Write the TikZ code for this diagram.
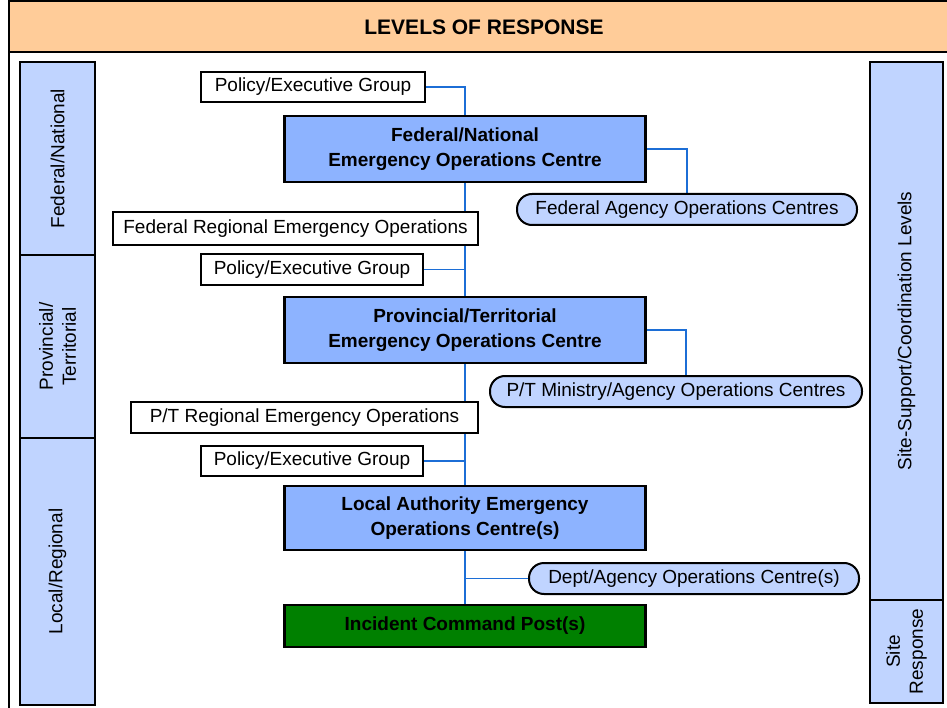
\documentclass[tikz,border=0pt]{standalone}
\usepackage{fontspec}
\setmainfont{Liberation Sans}
\usetikzlibrary{positioning,backgrounds}
\definecolor{titlepeach}{RGB}{255,204,153}
\definecolor{levelblue}{RGB}{192,212,255}
\definecolor{eocblue}{RGB}{141,179,255}
\definecolor{linkblue}{RGB}{28,110,214}
\definecolor{icpgreen}{RGB}{0,128,0}

\begin{document}
\begin{tikzpicture}[x=1pt, y=-1pt, thick,
    label text/.style={font=\fontsize{19}{23}\selectfont},
    level node/.style={label text, draw, line width=2.5pt, fill=levelblue, rotate=90, align=center, inner sep=0pt},
    group node/.style={label text, draw, line width=2.5pt, fill=white, inner sep=0pt},
    eoc node/.style={label text, font=\fontsize{19}{25}\selectfont\bfseries, draw, line width=2.5pt, fill=eocblue, align=center, inner sep=0pt, minimum width=361pt},
    agency node/.style={label text, draw, line width=2pt, fill=levelblue, rounded corners=15pt, inner sep=0pt, minimum height=31pt},
    link/.style={draw=linkblue, line width=1.8pt}]
    \useasboundingbox (0,0) rectangle (947,708);
    \clip (0,0) rectangle (947,708);

    % Frame and title
    \draw[line width=1.5pt] (9,1) rectangle (960,720);
    \draw[line width=1.5pt, fill=titlepeach] (9,1) rectangle (960,52);
    \node[font=\fontsize{21}{25}\selectfont\bfseries] (title) at (484,27) {LEVELS OF RESPONSE};

    % Levels (side columns)
    \node[level node, minimum width=193pt, minimum height=75pt] (fedlvl) at (57.5,158.5) {Federal/National};
    \node[level node, minimum width=183pt, minimum height=75pt] (provlvl) at (57.5,346.5) {Provincial/\\Territorial};
    \node[level node, minimum width=267pt, minimum height=75pt] (loclvl) at (57.5,571.5) {Local/Regional};
    \node[level node, minimum width=538pt, minimum height=73pt] (supportlvl) at (906.5,331) {Site-Support/Coordination Levels};
    \node[level node, minimum width=103pt, minimum height=73pt] (sitelvl) at (906.5,651.5) {Site\\Response};

    % Federal
    \node[group node, minimum width=224pt, minimum height=30pt] (peg1) at (313,87) {Policy/Executive Group};
    \node[eoc node, minimum height=66pt] (feoc) at (465,149) {Federal/National\\Emergency Operations Centre};
    \node[agency node, minimum width=340pt] (fao) at (687,209.5) {Federal Agency Operations Centres};
    \node[group node, minimum width=365pt, minimum height=33pt] (fre) at (295.5,228.5) {Federal Regional Emergency Operations};

    % Provincial/Territorial
    \node[group node, minimum width=222pt, minimum height=31pt] (peg2) at (312,269.5) {Policy/Executive Group};
    \node[eoc node, minimum height=66pt] (pteoc) at (465,330) {Provincial/Territorial\\Emergency Operations Centre};
    \node[agency node, minimum width=372pt] (ptm) at (676,391.5) {P/T Ministry/Agency Operations Centres};
    \node[group node, minimum width=347pt, minimum height=31pt] (ptre) at (304.5,417.5) {P/T Regional Emergency Operations};

    % Local
    \node[group node, minimum width=222pt, minimum height=30pt] (peg3) at (312,461) {Policy/Executive Group};
    \node[eoc node, minimum height=64pt] (laeoc) at (465,518) {Local Authority Emergency\\Operations Centre(s)};
    \node[agency node, minimum width=330pt] (dao) at (694,578.5) {Dept/Agency Operations Centre(s)};
    \node[eoc node, fill=icpgreen, minimum height=42pt] (icp) at (465,626) {Incident Command Post(s)};

    % Links
    \begin{scope}[on background layer]
        \draw[link] (peg1.east) -| (feoc.north);
        \draw[link] (feoc.east) -| (fao.north);
        \draw[link] (peg2.east) -- (peg2.east -| feoc.south);
        \draw[link] (pteoc.east) -| ([xshift=10pt]ptm.north);
        \draw[link] (peg3.east) -- (peg3.east -| laeoc.north);
        \draw[link] (dao.west) -- (dao.west -| laeoc.south);
        \path[link]
        (feoc.south) edge (pteoc.north)
        (pteoc.south) edge (laeoc.north)
        (laeoc.south) edge (icp.north);
    \end{scope}
\end{tikzpicture}
\end{document}
